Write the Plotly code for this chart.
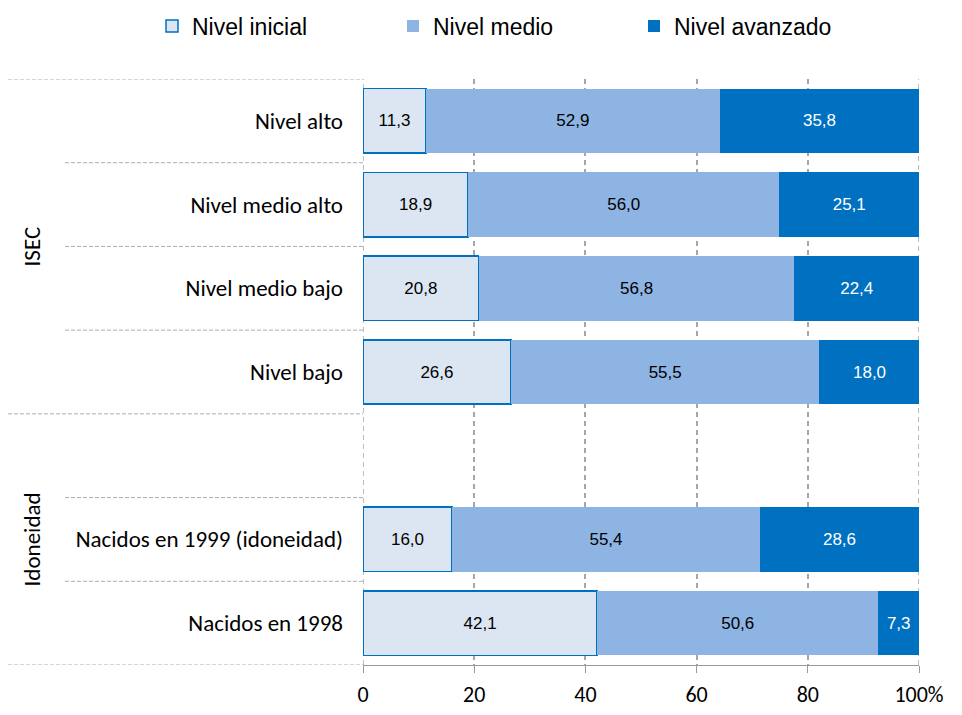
import plotly.graph_objects as go

categories = ["Nacidos en 1998", "Nacidos en 1999 (idoneidad)", " ",
              "Nivel bajo", "Nivel medio bajo", "Nivel medio alto", "Nivel alto"]
nivel_inicial = [42.1, 16.0, None, 26.6, 20.8, 18.9, 11.3]
nivel_medio = [50.6, 55.4, None, 55.5, 56.8, 56.0, 52.9]
nivel_avanzado = [7.3, 28.6, None, 18.0, 22.4, 25.1, 35.8]
series_names = ["Nivel inicial", "Nivel medio", "Nivel avanzado"]
x_tickvals = [0, 20, 40, 60, 80, 100]
x_ticktext = ["0", "20", "40", "60", "80", "100%"]
groups = [("ISEC", 4.5), ("Idoneidad", 1.0)]

LABEL_FONT = "Carlito, Lato, sans-serif"
ARIAL = "Liberation Sans, Arial, sans-serif"
GRID = "#A6A6A6"

fig = go.Figure()
fig.add_trace(go.Bar(
    y=categories, x=nivel_inicial, name=series_names[0], orientation="h",
    marker=dict(color="#DCE6F2", line=dict(color="#0070C0", width=1.5)),
    texttemplate="%{x:.1f}", textposition="inside", insidetextanchor="middle",
    textfont=dict(family=ARIAL, size=17, color="#000000"),
))
fig.add_trace(go.Bar(
    y=categories, x=nivel_medio, name=series_names[1], orientation="h",
    marker=dict(color="#8EB4E3", line=dict(width=0)),
    texttemplate="%{x:.1f}", textposition="inside", insidetextanchor="middle",
    textfont=dict(family=ARIAL, size=17, color="#000000"),
))
fig.add_trace(go.Bar(
    y=categories, x=nivel_avanzado, name=series_names[2], orientation="h",
    marker=dict(color="#0070C0", line=dict(width=0)),
    texttemplate="%{x:.1f}", textposition="inside", insidetextanchor="middle",
    textfont=dict(family=ARIAL, size=17, color="#FFFFFF"),
))

# figure is placed at an 8px body offset in the page
W, H = 946, 699
L, T = 355, 71
R = W - 911
B = H - 657
pw = W - L - R
ph = H - T - B

def px_to_paper_x(px):
    return (px - L) / pw

shapes = []
for yv, x0px in [(6.5, 0), (5.5, 57), (4.5, 57), (3.5, 57), (2.5, 0), (1.5, 57), (0.5, 57), (-0.5, 0)]:
    shapes.append(dict(type="line", xref="paper", yref="y",
                       x0=px_to_paper_x(x0px), x1=0, y0=yv, y1=yv,
                       line=dict(color="#ADADAD", width=1, dash="4px,2px"), layer="above"))
for xv in [0, 100]:
    shapes.append(dict(type="line", xref="x", yref="paper", x0=xv, x1=xv, y0=0, y1=1,
                       line=dict(color=GRID, width=1.5, dash="5px,4px"), layer="below"))

annotations = []
for label, yc in groups:
    annotations.append(dict(text=label, xref="paper", yref="y", x=px_to_paper_x(24), y=yc,
                            textangle=-90, showarrow=False,
                            font=dict(family=LABEL_FONT, size=23, color="#000000"),
                            xanchor="center", yanchor="middle"))

fig.update_layout(
    barmode="stack", bargap=0.23, separators=",.",
    width=W, height=H,
    margin=dict(l=L, r=R, t=T, b=B, autoexpand=False),
    plot_bgcolor="#FFFFFF", paper_bgcolor="#FFFFFF",
    legend=dict(orientation="h", x=px_to_paper_x(144), xanchor="left",
                y=1 + (T - 18) / ph, yanchor="middle",
                font=dict(family=ARIAL, size=23, color="#000000"),
                entrywidth=196, entrywidthmode="pixels", traceorder="normal",
                itemwidth=30),
    shapes=shapes, annotations=annotations,
    xaxis=dict(range=[0, 100], tickvals=x_tickvals, ticktext=x_ticktext,
               showgrid=True, gridcolor=GRID, griddash="5px,4px", gridwidth=1.5,
               zeroline=False, showline=True, linecolor="#999999", linewidth=1,
               ticks="outside", ticklen=7, tickcolor="#999999",
               ticklabelstandoff=3,
               tickfont=dict(family=LABEL_FONT, size=22, color="#000000")),
    yaxis=dict(categoryorder="array", categoryarray=categories, range=[-0.5, 6.5],
               showgrid=False, zeroline=False, showline=False, ticks="",
               ticklabelstandoff=19,
               tickfont=dict(family=LABEL_FONT, size=23, color="#000000")),
)

fig.write_html("out.html")
